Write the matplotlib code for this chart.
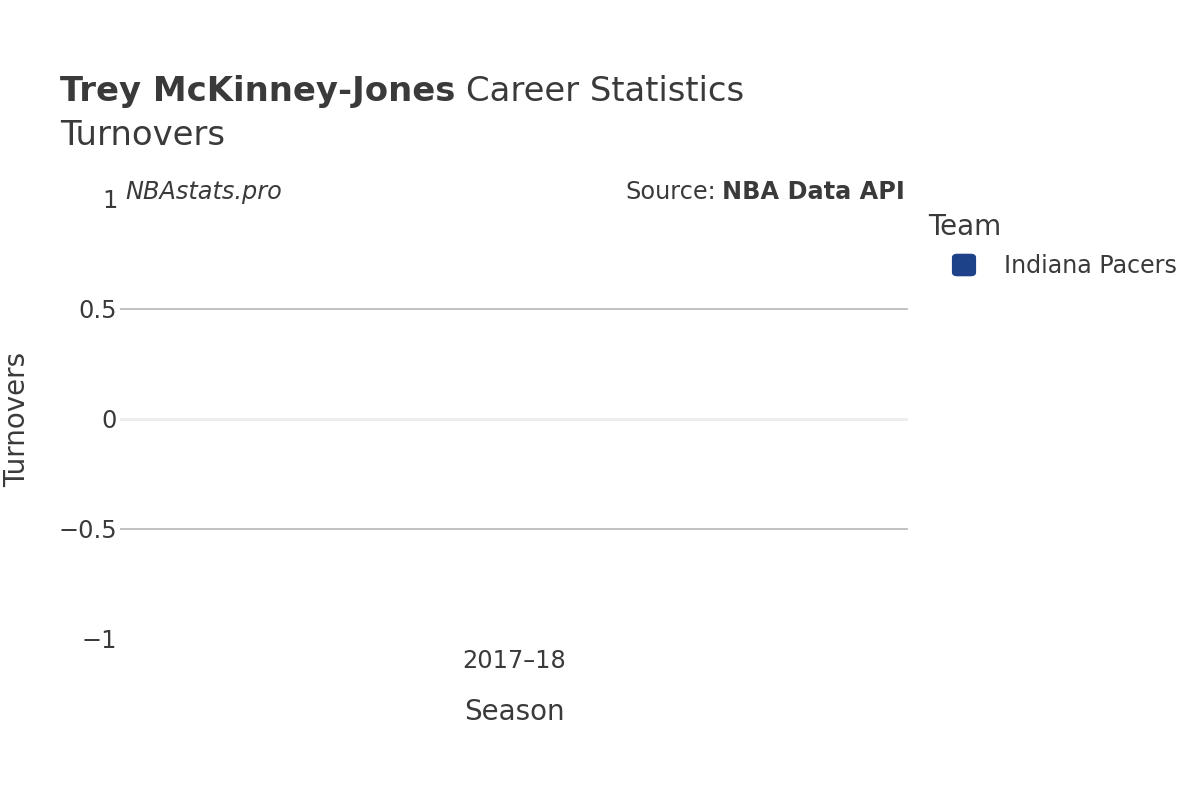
import matplotlib
matplotlib.use('Agg')
import matplotlib.pyplot as plt
from matplotlib.patches import FancyBboxPatch

seasons = ['2017–18']
turnovers = [0]
team = 'Indiana Pacers'
team_color = '#1d428a'
ytick_vals = [-1, -0.5, 0, 0.5, 1]
ytick_labels = ['−1', '−0.5', '0', '0.5', '1']

plt.rcParams['font.family'] = ['DejaVu Sans']
txt = '#3a3a3a'
W, H = 1200, 800

fig = plt.figure(figsize=(12, 8), dpi=100)
ax = fig.add_axes([120 / W, 1 - 639 / H, 788 / W, 440 / H])

ax.bar(range(len(seasons)), turnovers, width=0.8, color=team_color)
ax.set_xlim(-0.5, len(seasons) - 0.5)
ax.set_ylim(-1, 1)

# grid and zero line
for v in [-0.5, 0.5]:
    ax.axhline(v, color='#bdbdbd', lw=1.3, zorder=0)
ax.axhline(0, color='#eeeeee', lw=2.2, zorder=0)

for s in ax.spines.values():
    s.set_visible(False)
ax.set_xticks(range(len(seasons)))
ax.set_xticklabels(seasons)
ax.set_yticks(ytick_vals)
ax.set_yticklabels(ytick_labels)
ax.tick_params(axis='both', length=0, labelsize=17.3, colors=txt)
ax.tick_params(axis='x', pad=7)
ax.tick_params(axis='y', pad=2)

fig.text(514 / W, 1 - 712 / H, 'Season', fontsize=20, color=txt,
         ha='center', va='center')
fig.text(17 / W, 1 - 419 / H, 'Turnovers', rotation=90, fontsize=20, color=txt,
         ha='center', va='center')

# title
fig.canvas.draw()
r = fig.canvas.get_renderer()
t1 = fig.text(60 / W, 1 - 101 / H, 'Trey McKinney-Jones', fontsize=24.4,
              fontweight='bold', color=txt, va='baseline')
bb = t1.get_window_extent(renderer=r)
fig.text((bb.x1 + 11) / W, 1 - 101 / H, 'Career Statistics', fontsize=24.4,
         color=txt, va='baseline')
fig.text(60 / W, 1 - 145 / H, 'Turnovers', fontsize=24.4, color=txt, va='baseline')

# watermark and source
fig.text(125 / W, 1 - 199 / H, 'NBAstats.pro', fontsize=17.3, style='italic',
         color=txt, va='baseline')
s2 = fig.text(905 / W, 1 - 199 / H, 'NBA Data API', fontsize=17.3,
              fontweight='bold', color=txt, va='baseline', ha='right')
bb2 = s2.get_window_extent(renderer=r)
fig.text((bb2.x0 - 6) / W, 1 - 199 / H, 'Source:', fontsize=17.3, color=txt,
         va='baseline', ha='right')

# legend
fig.text(928 / W, 1 - 227 / H, 'Team', fontsize=20, color=txt, va='center')
fig.patches.append(FancyBboxPatch((955 / W, 1 - 274 / H), 18 / W, 18 / H,
                                  boxstyle='round,pad=0.002,rounding_size=0.004',
                                  transform=fig.transFigure, facecolor=team_color,
                                  edgecolor=team_color, figure=fig))
fig.text(1004 / W, 1 - 266 / H, team, fontsize=17.1, color=txt, va='center')

fig.savefig('out.png', dpi=100, facecolor='white')
